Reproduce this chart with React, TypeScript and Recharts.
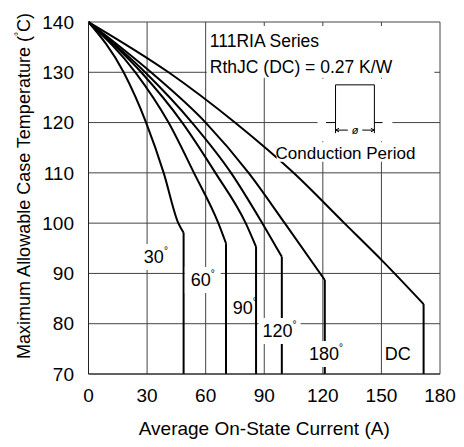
import {
  CartesianGrid,
  Label,
  Line,
  LineChart,
  ReferenceArea,
  ReferenceLine,
  XAxis,
  YAxis,
} from 'recharts';

// average on-state current (A) vs max case temperature (°C), one array per conduction angle;
// the last point is the knee where the curve drops vertically to the bottom of the chart
const angle30 = [
  { i: 0, t: 140 },
  { i: 18, t: 130 },
  { i: 29.5, t: 120 },
  { i: 38.5, t: 110 },
  { i: 46, t: 100 },
  { i: 48.7, t: 98.1 },
];
const angle60 = [
  { i: 0, t: 140 },
  { i: 24, t: 130 },
  { i: 41, t: 120 },
  { i: 54, t: 110 },
  { i: 66.5, t: 100 },
  { i: 70.4, t: 96 },
];
const angle90 = [
  { i: 0, t: 140 },
  { i: 27, t: 130 },
  { i: 48, t: 120 },
  { i: 65, t: 110 },
  { i: 80.5, t: 100 },
  { i: 85.8, t: 95.3 },
];
const angle120 = [
  { i: 0, t: 140 },
  { i: 29, t: 130 },
  { i: 53, t: 120 },
  { i: 73, t: 110 },
  { i: 89, t: 100 },
  { i: 99, t: 93.3 },
];
const angle180 = [
  { i: 0, t: 140 },
  { i: 32, t: 130 },
  { i: 60, t: 120 },
  { i: 82, t: 110 },
  { i: 100.5, t: 100 },
  { i: 121, t: 88.7 },
];
const dcCurve = [
  { i: 0, t: 140 },
  { i: 41, t: 130 },
  { i: 75, t: 120 },
  { i: 105, t: 110 },
  { i: 131, t: 100 },
  { i: 151, t: 92.3 },
  { i: 171.6, t: 83.9 },
];

const series = [angle30, angle60, angle90, angle120, angle180, dcCurve];

const xTicks = [0, 30, 60, 90, 120, 150, 180];
const yTicks = [70, 80, 90, 100, 110, 120, 130, 140];
const yFloor = yTicks[0];

const FONT = "'Liberation Sans', Arial, Helvetica, sans-serif";

// label drawn centred in the box of a ReferenceArea, with a small raised degree sign
const angleLabel = (value: string, deg: boolean) => (props: any) => {
  const { x, y, width, height } = props.viewBox;
  return (
    <text
      x={x + width / 2}
      y={y + height / 2}
      textAnchor="middle"
      dominantBaseline="central"
      fontSize={18}
      fontFamily={FONT}
      fill="#000"
    >
      {value}
      {deg && (
        <tspan fontSize={10} dy={-7}>
          °
        </tspan>
      )}
    </text>
  );
};

const seriesNote = (props: any) => {
  const { x, y } = props.viewBox;
  return (
    <text fontSize={17.5} fontFamily={FONT} fill="#000">
      <tspan x={x + 3} y={y + 21}>
        111RIA Series
      </tspan>
      <tspan x={x + 3} y={y + 46.5}>
        RthJC (DC) = 0.27 K/W
      </tspan>
    </text>
  );
};

const periodNote = (props: any) => {
  const { x, y, width } = props.viewBox;
  return (
    <text x={x + width / 2} y={y + 16.5} textAnchor="middle" fontSize={17} fontFamily={FONT} fill="#000">
      Conduction Period
    </text>
  );
};

const phiNote = (props: any) => {
  const { x, y, width, height } = props.viewBox;
  return (
    <text
      x={x + width / 2}
      y={y + height / 2}
      textAnchor="middle"
      dominantBaseline="central"
      fontSize={11}
      fontStyle="italic"
      fontFamily={FONT}
      fill="#000"
    >
      ø
    </text>
  );
};

const yTitle = () => (
  <text
    x={24}
    y={186}
    transform="rotate(-90 24 186)"
    textAnchor="middle"
    dominantBaseline="central"
    fontSize={18}
    fontFamily={FONT}
    fill="#000"
  >
    Maximum Allowable Case Temperature (
    <tspan fontSize={10} dy={-6}>
      °
    </tspan>
    <tspan dy={6}>C)</tspan>
  </text>
);

// pieces of the small conduction-period waveform symbol
const wave = [
  [121.6, 120, 126.5, 120],
  [126.5, 117.9, 126.5, 127.5],
  [126.5, 127.5, 146.4, 127.5],
  [146.4, 117.9, 146.4, 127.5],
  [146.4, 120, 150.6, 120],
  [126.5, 118.5, 132.8, 118.5],
  [140.2, 118.5, 146.4, 118.5],
  [126.5, 118.5, 128.3, 118.85],
  [126.5, 118.5, 128.3, 118.15],
  [146.4, 118.5, 144.6, 118.85],
  [146.4, 118.5, 144.6, 118.15],
];

export default function App() {
  return (
    <div style={{ position: 'absolute', left: 0, top: 0, fontFamily: FONT, background: '#fff' }}>
      <LineChart width={464} height={447} margin={{ top: 22, right: 24, bottom: 0, left: 0 }}>
        <CartesianGrid stroke="#444" />
        <XAxis
          dataKey="i"
          type="number"
          domain={[0, 180]}
          ticks={xTicks}
          interval={0}
          height={73}
          tickLine={false}
          tickSize={0}
          tickMargin={15}
          axisLine={{ stroke: '#222' }}
          tick={{ fill: '#000', fontSize: 19 }}
        >
          <Label
            value="Average On-State Current (A)"
            position="insideBottom"
            offset={12}
            fontSize={19}
            fill="#000"
          />
        </XAxis>
        <YAxis
          type="number"
          domain={[70, 140]}
          ticks={yTicks}
          interval={0}
          width={88.5}
          tickLine={false}
          tickSize={0}
          tickMargin={14.5}
          axisLine={{ stroke: '#222' }}
          tick={{ fill: '#000', fontSize: 19 }}
        >
          <Label content={yTitle} />
        </YAxis>
        {series.map((d, k) => (
          <Line
            key={`c${k}`}
            data={d}
            dataKey="t"
            type="monotone"
            stroke="#000"
            strokeWidth={2}
            dot={false}
            activeDot={false}
            isAnimationActive={false}
          />
        ))}
        {series.map((d, k) => {
          const knee = d[d.length - 1];
          return (
            <Line
              key={`v${k}`}
              data={[knee, { i: knee.i, t: yFloor }]}
              dataKey="t"
              type="linear"
              stroke="#000"
              strokeWidth={2}
              dot={false}
              activeDot={false}
              isAnimationActive={false}
            />
          );
        })}
        <ReferenceArea x1={60.6} x2={177.1} y1={128.9} y2={139.2} fill="#fff" fillOpacity={1} stroke="none" ifOverflow="visible" zIndex={450} label={seriesNote} />
        <ReferenceArea x1={117.3} x2={155.6} y1={116.3} y2={128.7} fill="#fff" fillOpacity={1} stroke="none" ifOverflow="visible" zIndex={450} />
        <ReferenceArea x1={96.3} x2={166.9} y1={112.2} y2={116.1} fill="#fff" fillOpacity={1} stroke="none" ifOverflow="visible" zIndex={450} label={periodNote} />
        {wave.map(([xa, ya, xb, yb], k) => (
          <ReferenceLine
            key={`w${k}`}
            segment={[
              { x: xa, y: ya },
              { x: xb, y: yb },
            ]}
            stroke="#000"
            strokeWidth={1}
            ifOverflow="visible"
            zIndex={460}
          />
        ))}
        <ReferenceArea x1={133} x2={140} y1={117.5} y2={119.5} fillOpacity={0} stroke="none" ifOverflow="visible" zIndex={460} label={phiNote} />
        <ReferenceArea x1={27.4} x2={41.6} y1={90.68} y2={95.85} fill="#fff" fillOpacity={1} stroke="none" ifOverflow="visible" zIndex={450} label={angleLabel('30', true)} />
        <ReferenceArea x1={49.3} x2={67.7} y1={86.11} y2={91.28} fill="#fff" fillOpacity={1} stroke="none" ifOverflow="visible" zIndex={450} label={angleLabel('60', true)} />
        <ReferenceArea x1={73.9} x2={86.1} y1={80.74} y2={85.51} fillOpacity={0} stroke="none" ifOverflow="visible" zIndex={450} label={angleLabel('90', true)} />
        <ReferenceArea x1={87.1} x2={108.6} y1={75.97} y2={81.14} fill="#fff" fillOpacity={1} stroke="none" ifOverflow="visible" zIndex={450} label={angleLabel('120', true)} />
        <ReferenceArea x1={111.2} x2={132.1} y1={71.39} y2={76.56} fill="#fff" fillOpacity={1} stroke="none" ifOverflow="visible" zIndex={450} label={angleLabel('180', true)} />
        <ReferenceArea x1={151.0} x2={165.8} y1={71.39} y2={76.56} fillOpacity={0} stroke="none" ifOverflow="visible" zIndex={450} label={angleLabel('DC', false)} />
      </LineChart>
    </div>
  );
}
